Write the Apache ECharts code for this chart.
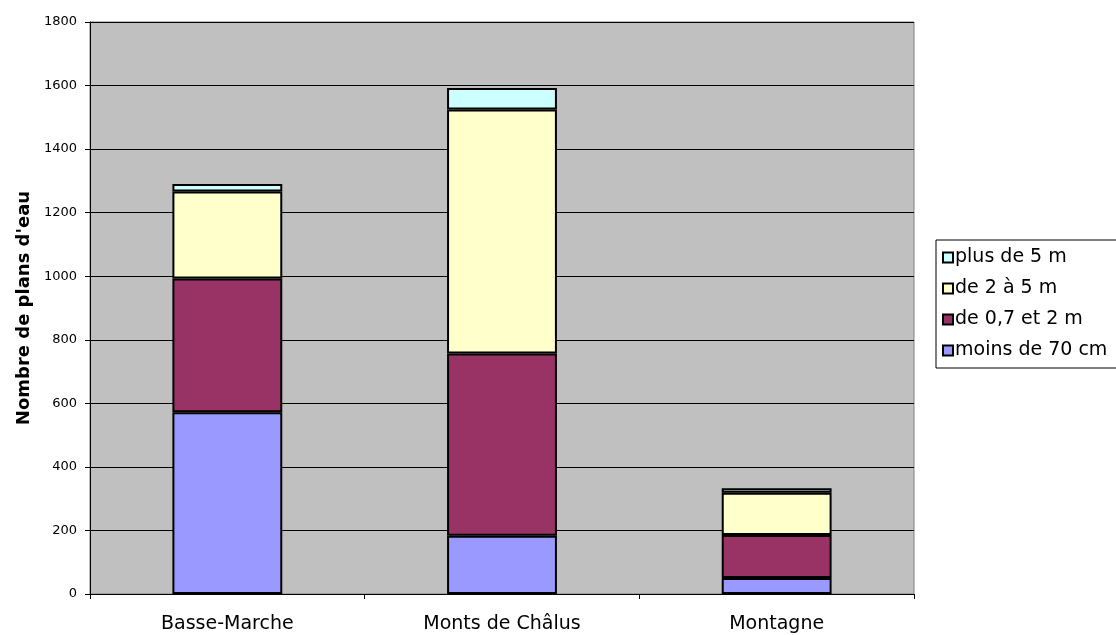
<!DOCTYPE html>
<html><head><meta charset="utf-8">
<script src="https://cdn.jsdelivr.net/npm/echarts@6/dist/echarts.min.js"></script>
<style>html,body{margin:0;padding:0;background:#fff}#c{width:1116px;height:635px}</style>
</head><body><div id="c"></div>
<script>
const categories = ["Basse-Marche", "Monts de Châlus", "Montagne"];
const moins70 = [572, 183, 50];
const de07a2 = [421, 574, 136];
const de2a5 = [274, 768, 133];
const plus5 = [23, 67, 14];
const yTicks = [0, 200, 400, 600, 800, 1000, 1200, 1400, 1600, 1800];
const seriesNames = ["moins de 70 cm", "de 0,7 et 2 m", "de 2 à 5 m", "plus de 5 m"];
const colors = ["#9999ff", "#993366", "#ffffcc", "#ccffff"];

const FONT = 'DejaVu Sans, Liberation Sans, sans-serif';
const chart = echarts.init(document.getElementById('c'), null, {renderer: 'canvas'});
const mk = (name, data, color) => ({
  name, type: 'bar', stack: 'total', data, barWidth: '40%',
  itemStyle: {color, borderColor: '#000', borderWidth: 2},
  emphasis: {disabled: true}, animation: false
});
chart.setOption({
  animation: false,
  textStyle: {fontFamily: FONT},
  grid: {left: 90, right: 202, top: 22, bottom: 41, show: true, backgroundColor: '#c0c0c0', borderColor: '#808080', borderWidth: 1},
  legend: {
    orient: 'vertical', left: 936, top: 240,
    data: [seriesNames[3], seriesNames[2], seriesNames[1], seriesNames[0]],
    backgroundColor: '#fff', borderColor: '#000', borderWidth: 1,
    padding: [8, 40, 8, 6], itemGap: 12, itemWidth: 10, itemHeight: 10,
    icon: 'rect',
    textStyle: {fontSize: 19, color: '#000', fontFamily: FONT, padding: [0, 0, 0, -3]}
  },
  xAxis: {
    type: 'category', data: categories,
    axisLine: {lineStyle: {color: '#000', width: 1}},
    axisTick: {show: true, inside: false, length: 5, lineStyle: {color: '#000'}},
    axisLabel: {fontSize: 19, color: '#000', margin: 21, fontFamily: FONT},
    splitLine: {show: false}
  },
  yAxis: {
    type: 'value', min: 0, max: 1800, interval: 200,
    name: "Nombre de plans d'eau", nameLocation: 'middle', nameGap: 57, nameRotate: 90,
    nameTextStyle: {fontSize: 18, fontWeight: 'bold', color: '#000', fontFamily: FONT},
    axisLine: {show: true, lineStyle: {color: '#000', width: 1}},
    axisTick: {show: true, inside: false, length: 5, lineStyle: {color: '#000'}},
    axisLabel: {fontSize: 13, color: '#000', margin: 13, fontFamily: FONT, formatter: v => yTicks.includes(v) ? String(v) : ''},
    splitLine: {show: true, lineStyle: {color: '#000', width: 1}}
  },
  series: [
    mk(seriesNames[0], moins70, colors[0]),
    mk(seriesNames[1], de07a2, colors[1]),
    mk(seriesNames[2], de2a5, colors[2]),
    mk(seriesNames[3], plus5, colors[3])
  ]
});
</script></body></html>
